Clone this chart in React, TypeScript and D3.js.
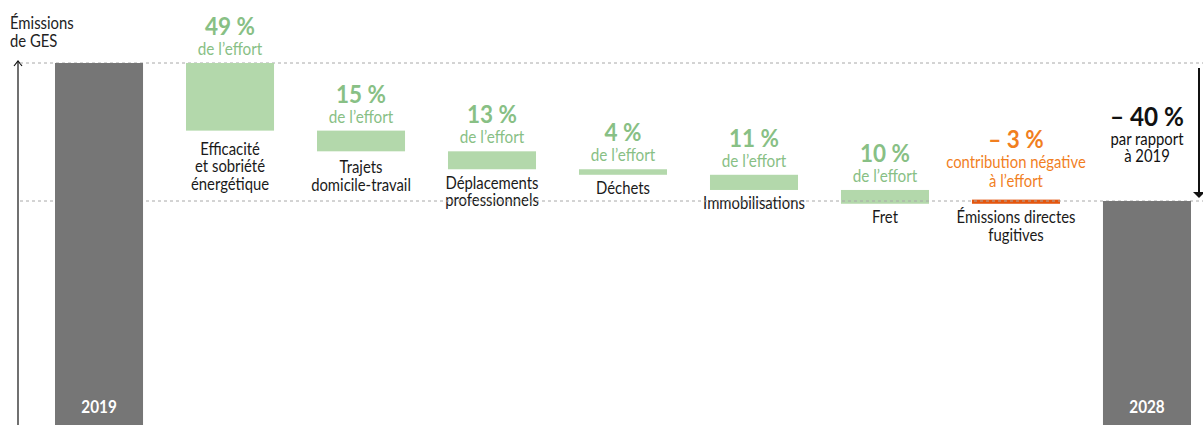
import React from "react";
import * as d3 from "d3";

const W = 1203;
const H = 425;

const startYear = "2019";
const endYear = "2028";
const baseValue = 100;
const totalReduction = 40; // % vs 2019
const effortLabels: string[][] = [
  ["Efficacité", "et sobriété", "énergétique"],
  ["Trajets", "domicile-travail"],
  ["Déplacements", "professionnels"],
  ["Déchets"],
  ["Immobilisations"],
  ["Fret"],
  ["Émissions directes", "fugitives"],
];
const effortShares = [49, 15, 13, 4, 11, 10, -3];
const axisTitle = ["Émissions", "de GES"];
const totalLabel = "– 40 %";
const totalSub = ["par rapport", "à 2019"];

const FONT = "Lato, 'Liberation Sans', sans-serif";
const GRAY = "#767676";
const GREEN_BAR = "#b3d8ab";
const GREEN_TXT = "#88c085";
const ORANGE_BAR = "#e4560e";
const ORANGE_TXT = "#f17f1f";

// horizontally condensed text helper
const SX = 0.9;
function CText(props: any) {
  const { x, y, children, ...rest } = props;
  return (
    <text transform={`translate(${x},${y}) scale(${SX},1)`} {...rest}>{children}</text>
  );
}

export default function App() {
  const keys = [startYear, ...effortLabels.map((_, i) => "e" + i), endYear];
  const x = d3.scaleBand<string>().domain(keys).range([55, 1191]).paddingInner(0.328).paddingOuter(0);
  const y = d3.scaleLinear().domain([baseValue - totalReduction, baseValue]).range([201, 63]);
  const bw = x.bandwidth();

  let level = baseValue;
  const steps = effortShares.map((s, i) => {
    const from = level;
    const to = level - (s / 100) * totalReduction;
    level = to;
    return { key: "e" + i, share: s, from, to, lines: effortLabels[i] };
  });

  const endValue = baseValue - totalReduction;

  return (
    <svg width={W} height={H} style={{ position: "absolute", left: 0, top: 0 }} fontFamily={FONT}>
      {/* axis title */}
      {axisTitle.map((t, i) => (
        <CText key={t} x={10} y={29 + i * 18} fontSize={16.5} fill="#222">{t}</CText>
      ))}
      {/* axis */}
      <line x1={18} x2={18} y1={61} y2={H} stroke="#111" strokeWidth={1.2} />
      <path d={`M14,66 L18,61 L22,66`} fill="none" stroke="#111" strokeWidth={1.2} />

      {/* dashed reference lines */}
      <line x1={20} x2={W} y1={y(baseValue)} y2={y(baseValue)} stroke="#a8a8a8" strokeDasharray="3,3" />

      {/* effort bars */}
      {steps.map((d, i) => {
        const top = Math.min(y(d.from), y(d.to));
        const bottom = Math.max(y(d.from), y(d.to));
        const neg = d.share < 0;
        const cx = (x(d.key) as number) + bw / 2;
        const subs = neg ? ["contribution négative", "à l’effort"] : ["de l’effort"];
        const color = neg ? ORANGE_TXT : GREEN_TXT;
        const subBase = top - (neg ? 13 : 8);
        const lh = neg ? 18.5 : 17.5;
        const pctBase = subBase - (subs.length - 1) * lh - 20;
        const labelGap = i === 0 ? 24 : i === 1 ? 22 : 19.5;
        return (
          <g key={d.key}>
            <rect x={x(d.key)} y={top} width={bw} height={bottom - top} fill={neg ? ORANGE_BAR : GREEN_BAR} />
            <CText x={cx} y={pctBase} textAnchor="middle" fontSize={25} fontWeight="bold" fill={color}>
              {neg ? `– ${Math.abs(d.share)} %` : `${d.share} %`}
            </CText>
            {subs.map((s, j) => (
              <CText key={j} x={cx} y={subBase - (subs.length - 1 - j) * lh} textAnchor="middle" fontSize={neg ? 16.5 : 17} fill={color}>{s}</CText>
            ))}
            {d.lines.map((l, j) => (
              <CText key={l} x={cx} y={bottom + labelGap + j * 17.5} textAnchor="middle" fontSize={16.5} fill="#1a1a1a">{l}</CText>
            ))}
          </g>
        );
      })}

      <line x1={20} x2={W} y1={y(endValue)} y2={y(endValue)} stroke="#a8a8a8" strokeDasharray="3,3" />

      {/* total bars */}
      {[{ k: startYear, v: baseValue }, { k: endYear, v: endValue }].map((d) => (
        <g key={d.k}>
          <rect x={x(d.k)} y={y(d.v)} width={bw} height={H - y(d.v)} fill={GRAY} />
          <CText x={(x(d.k) as number) + bw / 2} y={413} textAnchor="middle" fontSize={17} fontWeight="bold" fill="#fff">{d.k}</CText>
        </g>
      ))}

      {/* total change arrow */}
      <line x1={1199} x2={1199} y1={y(baseValue) + 5} y2={y(endValue) - 8} stroke="#111" strokeWidth={2} />
      <path d={`M1193,${y(endValue) - 9} L1205,${y(endValue) - 9} L1199,${y(endValue) - 3} Z`} fill="#111" />
      <CText x={1147} y={126} textAnchor="middle" fontSize={27} fontWeight="bold" fill="#111">{totalLabel}</CText>
      {totalSub.map((t, i) => (
        <CText key={t} x={1147} y={145 + i * 17} textAnchor="middle" fontSize={16.5} fill="#111">{t}</CText>
      ))}
    </svg>
  );
}
